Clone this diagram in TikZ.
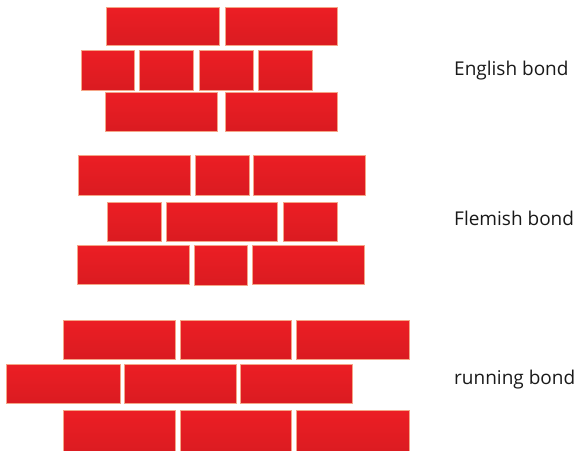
\documentclass[tikz,border=0pt]{standalone}
\usepackage{fontspec}
\setmainfont{Open Sans}
\definecolor{bricktop}{RGB}{236,30,36}
\definecolor{brickbot}{RGB}{218,27,33}
\definecolor{brickedge}{RGB}{245,165,135}
\newcommand\brk[5]{\node[brickbox, minimum width={(#4-#2)*1pt}, minimum height={(#5-#3)*1pt}] (#1) at ({(#2+#4)/2},{(#3+#5)/2}) {};}
\tikzset{
  brickbox/.style={rectangle, inner sep=0pt, outer sep=0pt, draw=brickedge, line width=0.7pt, top color=bricktop, bottom color=brickbot},
  label/.style={anchor=west, inner sep=0pt, font=\fontsize{19}{22}\selectfont, text=black!90}
}
\begin{document}
\begin{tikzpicture}[x=1pt,y=-1pt]
\useasboundingbox (0,0) rectangle (580,450);
\begin{scope}
\clip (0,0) rectangle (580,450);
% English bond
\brk{e11}{106.5}{7}{219}{45.5}
\brk{e12}{225}{7}{337.5}{45.5}
\brk{e21}{81}{50}{134.5}{90}
\brk{e22}{139.5}{50}{193.5}{90}
\brk{e23}{199}{50}{253}{90}
\brk{e24}{258.5}{50}{312.5}{90}
\brk{e31}{105.5}{92.5}{217.5}{131}
\brk{e32}{225}{92.5}{337.5}{131}
% Flemish bond
\brk{f11}{78.5}{155}{190.5}{195}
\brk{f12}{195}{155}{249}{195}
\brk{f13}{253.5}{155}{365.5}{195}
\brk{f21}{107.5}{202.5}{161.5}{241.5}
\brk{f22}{166}{202.5}{277.5}{241.5}
\brk{f23}{283.5}{202.5}{337.5}{241.5}
\brk{f31}{77.5}{245}{189.5}{284.5}
\brk{f32}{194}{245}{247.5}{285.5}
\brk{f33}{252.5}{245}{364}{284.5}
% running bond
\brk{r11}{63.5}{320}{175.5}{359}
\brk{r12}{180}{320}{291.5}{359}
\brk{r13}{296}{320}{409.5}{359}
\brk{r21}{6.5}{364}{120}{403.5}
\brk{r22}{124}{364}{236}{403.5}
\brk{r23}{240.5}{364}{352.5}{403.5}
\brk{r31}{63.5}{410}{175.5}{455}
\brk{r32}{180}{410}{291.5}{455}
\brk{r33}{296}{410}{409.5}{455}
\end{scope}
\node[label] (le) at (454,71) {English bond};
\node[label] (lf) at (454,218) {Flemish bond};
\node[label] (lr) at (454,380) {running bond};
\end{tikzpicture}
\end{document}
